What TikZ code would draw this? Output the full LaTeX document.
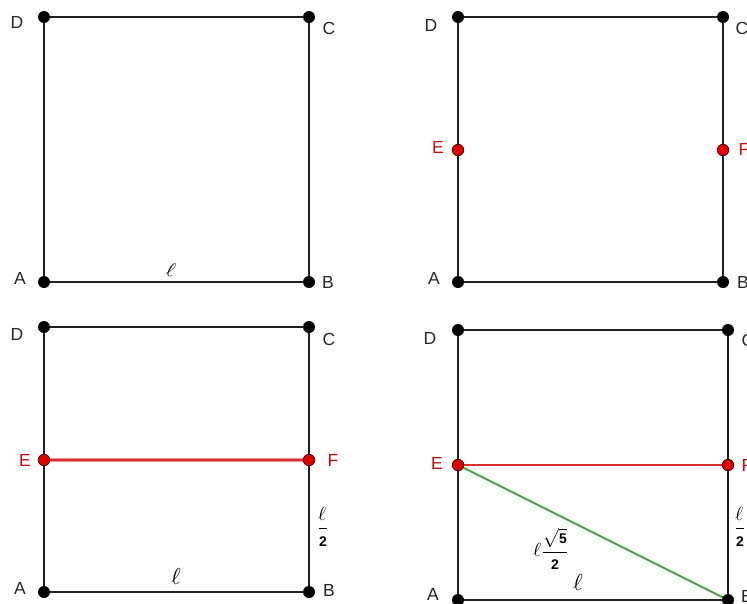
\documentclass[tikz,border=0pt]{standalone}
\usepackage{fontspec}
\setmainfont{Liberation Sans}
\usepackage{unicode-math}
\setmathfont{Latin Modern Math}
\definecolor{ptred}{HTML}{E00000}
\definecolor{labred}{HTML}{D01010}
\definecolor{segred}{HTML}{D83030}
\definecolor{seggreen}{HTML}{3FA63F}
\tikzset{
  side/.style={line width=2pt, black!88},
  bdot/.style={circle, fill=black, inner sep=0pt, minimum size=12pt},
  rdot/.style={circle, fill=ptred, draw=black!70!red, line width=0.8pt, inner sep=0pt, minimum size=11.5pt},
  lab/.style={font=\fontsize{17.5}{20}\selectfont, text=black!85, inner sep=0pt},
  rlab/.style={lab, text=labred},
  mlab/.style={inner sep=0pt, font=\fontsize{23}{26}\selectfont},
  flab/.style={inner sep=0pt, font=\fontsize{19}{22}\selectfont},
}
\newcommand{\halfell}{\dfrac{\ell}{\raisebox{0pt}{\fontsize{14}{16}\selectfont$\mathbf{2}$}}}
\begin{document}
\begin{tikzpicture}[x=1pt,y=-1pt]
\useasboundingbox (0,0) rectangle (747,603);
% ---------- panel 1
\coordinate (A1) at (44,282); \coordinate (B1) at (309,282);
\coordinate (C1) at (309,17); \coordinate (D1) at (44,17);
\draw[side] (A1) -- (B1) -- (C1) -- (D1) -- cycle;
\foreach \p in {A1,B1,C1,D1} \node[bdot] (dot\p) at (\p) {};
\node[lab] (lD1) at (17,22) {D};
\node[lab] (lC1) at (329,28) {C};
\node[lab] (lA1) at (20,278) {A};
\node[lab] (lB1) at (328,282) {B};
\node[inner sep=0pt, font=\fontsize{20}{22}\selectfont, rotate=-15] (l1) at (171,270) {$\ell$};
% ---------- panel 2
\coordinate (A2) at (458,282); \coordinate (B2) at (723,282);
\coordinate (C2) at (723,17); \coordinate (D2) at (458,17);
\coordinate (E2) at (458,150); \coordinate (F2) at (723,150);
\draw[side] (A2) -- (B2) -- (C2) -- (D2) -- cycle;
\foreach \p in {A2,B2,C2,D2} \node[bdot] (dot\p) at (\p) {};
\node[rdot] (dotE2) at (E2) {};
\node[rdot] (dotF2) at (F2) {};
\node[lab] (lD2) at (431,25) {D};
\node[lab] (lC2) at (742,28) {C};
\node[rlab] (lE2) at (438,147) {E};
\node[rlab] (lF2) at (744,149) {F};
\node[lab] (lA2) at (434,278) {A};
\node[lab] (lB2) at (743,282) {B};
% ---------- panel 3
\coordinate (A3) at (44,592); \coordinate (B3) at (309,592);
\coordinate (C3) at (309,327); \coordinate (D3) at (44,327);
\coordinate (E3) at (44,460); \coordinate (F3) at (309,460);
\draw[side] (A3) -- (B3) -- (C3) -- (D3) -- cycle;
\draw[line width=4pt, segred!55] (E3) -- (F3);
\draw[line width=1.6pt, segred] (E3) -- (F3);
\foreach \p in {A3,B3,C3,D3} \node[bdot] (dot\p) at (\p) {};
\node[rdot] (dotE3) at (E3) {};
\node[rdot] (dotF3) at (F3) {};
\node[lab] (lD3) at (17,334) {D};
\node[lab] (lC3) at (329,339) {C};
\node[rlab, text=labred!85!black] (lE3) at (25,460) {E};
\node[rlab, text=labred!85!black] (lF3) at (333,460) {F};
\node[lab] (lA3) at (20,588) {A};
\node[lab] (lB3) at (329,590) {B};
\node[mlab] (l3) at (176,577) {$\ell$};
\node[flab] (h3) at (323,527) {$\halfell$};
% ---------- panel 4
\coordinate (A4) at (458,600); \coordinate (B4) at (728,600);
\coordinate (C4) at (728,330); \coordinate (D4) at (458,330);
\coordinate (E4) at (458,465); \coordinate (F4) at (728,465);
\draw[side] (A4) -- (B4) -- (C4) -- (D4) -- cycle;
\draw[line width=1.8pt, segred] (E4) -- (F4);
\draw[line width=1.8pt, seggreen] (E4) -- (B4);
\foreach \p in {A4,B4,C4,D4} \node[bdot] (dot\p) at (\p) {};
\node[rdot] (dotE4) at (E4) {};
\node[rdot] (dotF4) at (F4) {};
\node[lab] (lD4) at (430,338) {D};
\node[lab] (lC4) at (748,340) {C};
\node[rlab, text=labred!85!black] (lE4) at (437,463) {E};
\node[rlab, text=labred!85!black] (lF4) at (747,465) {F};
\node[lab] (lA4) at (433,594) {A};
\node[lab] (lB4) at (747,596) {B};
\node[flab] (d4) at (551,549) {$\ell\dfrac{\sqrt{\raisebox{0pt}{\fontsize{14}{16}\selectfont$\mathbf{5}$}}}{\raisebox{0pt}{\fontsize{14}{16}\selectfont$\mathbf{2}$}}$};
\node[mlab] (l4) at (578,583) {$\ell$};
\node[flab] (h4) at (740,527) {$\halfell$};
\end{tikzpicture}
\end{document}
